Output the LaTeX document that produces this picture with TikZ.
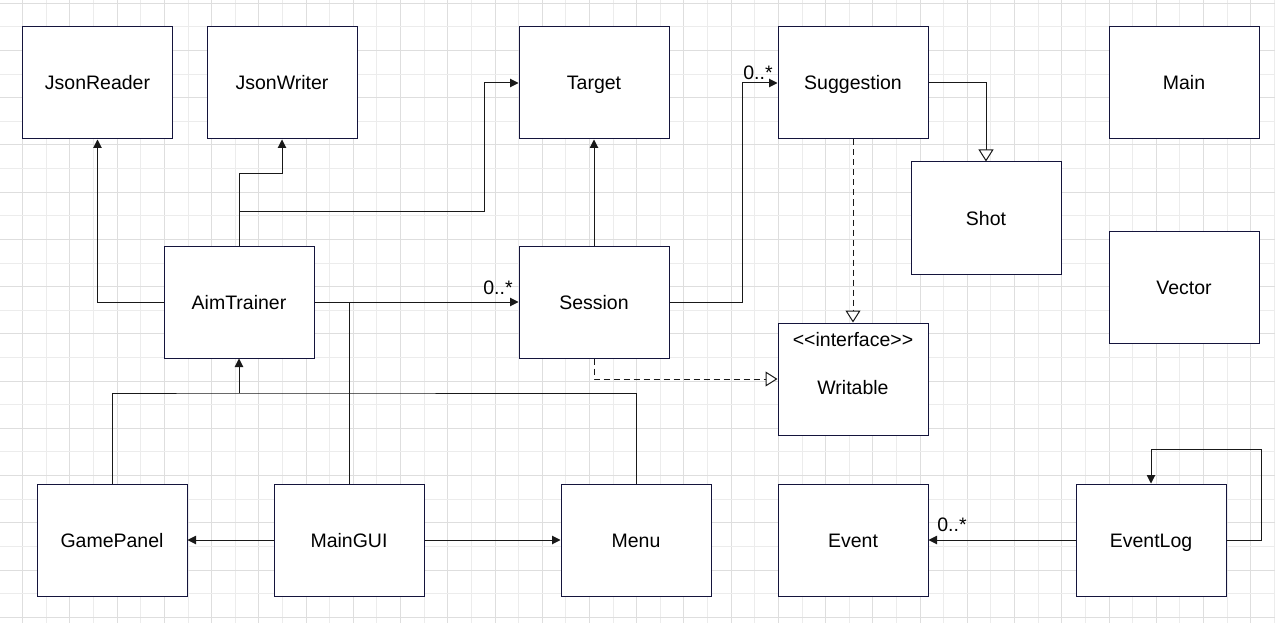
\documentclass[tikz,border=0pt]{standalone}
\usepackage{fontspec}
\setmainfont{Liberation Sans}
\usetikzlibrary{arrows.meta}
\definecolor{boxline}{RGB}{20,20,60}
\definecolor{gridA}{RGB}{236,236,236}
\definecolor{gridB}{RGB}{222,222,222}
\tikzset{
  cls/.style={draw=boxline, line width=1pt, fill=white, minimum width=150pt, minimum height=112pt, inner sep=0pt, text height=14pt, text depth=0pt, font=\fontsize{19.5}{23}\selectfont},
  txt/.style={inner sep=0pt, text height=14pt, text depth=0pt, font=\fontsize{19.5}{23}\selectfont},
  conn/.style={draw=black!90, line width=1pt},
  arr/.style={conn, -{Triangle[length=8.5pt,width=8.5pt]}},
  inh/.style={conn, -{Triangle[open,length=12pt,width=15pt,fill=white]}},
  dsh/.style={dash pattern=on 6pt off 4pt},
}
\begin{document}
\begin{tikzpicture}[x=1pt,y=-1pt]
\useasboundingbox (0,0) rectangle (1275,623);
\fill[white] (0,0) rectangle (1275,623);
% grid
\foreach \i in {0,2,...,54} {\pgfmathsetmacro\xx{-0.915+\i*23.615}\draw[gridA, line width=1pt] (\xx,0) -- (\xx,623);}
\foreach \i in {1,3,...,53} {\pgfmathsetmacro\xx{-0.915+\i*23.615}\draw[gridB, line width=1pt] (\xx,0) -- (\xx,623);}
\foreach \j in {0,2,...,26} {\pgfmathsetmacro\yy{3.3+\j*23.615}\draw[gridB, line width=1pt] (0,\yy) -- (1275,\yy);}
\foreach \j in {1,3,...,25} {\pgfmathsetmacro\yy{3.3+\j*23.615}\draw[gridA, line width=1pt] (0,\yy) -- (1275,\yy);}

% classes
\node[cls] (JsonReader) at (97.5,83) {JsonReader};
\node[cls] (JsonWriter) at (282,83) {JsonWriter};
\node[cls] (Target) at (594,83) {Target};
\node[cls] (Suggestion) at (853,83) {Suggestion};
\node[cls] (Main) at (1184,83) {Main};
\node[cls] (Shot) at (986,218) {Shot};
\node[cls] (AimTrainer) at (239,302) {AimTrainer};
\node[cls] (Session) at (594,302) {Session};
\node[cls] (Vector) at (1184,287) {Vector};
\node[cls] (Writable) at (853,379) {};
\node[txt] (wrtitle) at (853,339.5) {<\kern0pt<interface>\kern0pt>};
\node[txt] (wrname) at (853,387.5) {Writable};
\node[cls] (GamePanel) at (112,540) {GamePanel};
\node[cls] (MainGUI) at (349,540) {MainGUI};
\node[cls] (Menu) at (636,540) {Menu};
\node[cls] (Event) at (853,540) {Event};
\node[cls] (EventLog) at (1151,540) {EventLog};

% helper coordinates
\coordinate (jw) at (239,174);
\coordinate (tg) at (239,211);
\coordinate (tgb) at (484,211);
\coordinate (mg) at (349,302);
\coordinate (bus) at (239,393);
\coordinate (sg) at (742,302);
\coordinate (loop) at (1261,449);

% connectors
\draw[arr] (AimTrainer.west) -| (JsonReader.south);
\draw[arr] (AimTrainer.north) -- (jw) -| (JsonWriter.south);
\draw[arr] (tg) -- (tgb) |- (Target.west);
\draw[arr] (AimTrainer.east) -- (Session.west);
\node[txt] (m1) at (498,287) {0..*};
\draw[conn] (MainGUI.north) -- (mg);
\draw[conn] (GamePanel.north) |- (bus) -| (Menu.north);
\draw[arr] (bus) -- (AimTrainer.south);
\draw[arr] (Session.north) -- (Target.south);
\draw[arr] (Session.east) -- (sg) |- (Suggestion.west);
\node[txt] (m2) at (758,73) {0..*};
\draw[inh] (Suggestion.east) -| (Shot.north);
\draw[inh,dsh] (Suggestion.south) -- (Writable.north);
\draw[inh,dsh] (Session.south) |- (Writable.west);
\draw[arr] (MainGUI.west) -- (GamePanel.east);
\draw[arr] (MainGUI.east) -- (Menu.west);
\draw[arr] (EventLog.west) -- (Event.east);
\node[txt] (m3) at (952,524.5) {0..*};
\draw[arr] (EventLog.east) -| (loop) -| (EventLog.north);
\end{tikzpicture}
\end{document}
